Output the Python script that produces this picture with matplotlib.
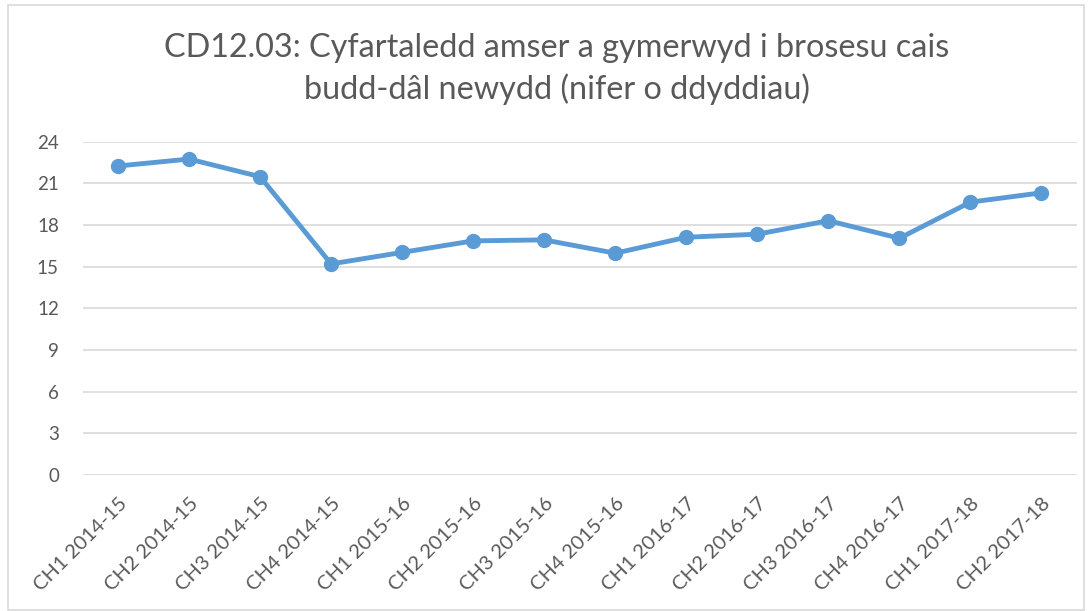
import matplotlib
matplotlib.use("Agg")
import matplotlib.pyplot as plt
from matplotlib.patches import Rectangle

categories = ["CH1 2014-15", "CH2 2014-15", "CH3 2014-15", "CH4 2014-15",
              "CH1 2015-16", "CH2 2015-16", "CH3 2015-16", "CH4 2015-16",
              "CH1 2016-17", "CH2 2016-17", "CH3 2016-17", "CH4 2016-17",
              "CH1 2017-18", "CH2 2017-18"]
values = [22.25, 22.75, 21.48, 15.2, 16.03, 16.86, 16.93, 15.97,
          17.12, 17.34, 18.31, 17.05, 19.65, 20.32]
yticks = [0, 3, 6, 9, 12, 15, 18, 21, 24]
title = "CD12.03: Cyfartaledd amser a gymerwyd i brosesu cais\nbudd-dâl newydd (nifer o ddyddiau)"

W, H = 1090, 611
plt.rcParams['font.family'] = ['Lato', 'DejaVu Sans']
fig = plt.figure(figsize=(W / 100, H / 100), dpi=100)

# outer chart border
fig.patches.append(Rectangle((8 / W, 1 / H), (1084 - 8) / W, (606 - 1) / H,
                             transform=fig.transFigure, fill=False,
                             edgecolor="#D9D9D9", linewidth=1.2))

left, right = 82.5, 1077
top, bottom = 141.7, 475
ax = fig.add_axes([left / W, 1 - bottom / H, (right - left) / W, (bottom - top) / H])

x = list(range(len(categories)))
ax.plot(x, values, color="#5B9BD5", linewidth=3.5, marker="o", markersize=10,
        solid_capstyle="round", solid_joinstyle="round", zorder=3, clip_on=False)

ax.set_xlim(-0.5, len(categories) - 0.5)
ax.set_ylim(0, 24)
ax.set_yticks(yticks)
ax.set_yticklabels([str(v) for v in yticks])
ax.set_xticks(x)
ax.set_xticklabels(categories, rotation=45, ha="right", va="top", rotation_mode="anchor")
ax.tick_params(axis="both", length=0, colors="#595959")
ax.tick_params(axis="y", pad=17, labelsize=13.5)
ax.tick_params(axis="x", pad=14, labelsize=14.5)
ax.grid(axis="y", color="#D9D9D9", linewidth=1.2)
ax.set_axisbelow(True)
for s in ax.spines.values():
    s.set_visible(False)

fig.text(557 / W, 1 - 69 / H, title, ha="center", va="center", fontsize=23.3,
         color="#595959", linespacing=1.42)

fig.savefig("out.png", dpi=100)
